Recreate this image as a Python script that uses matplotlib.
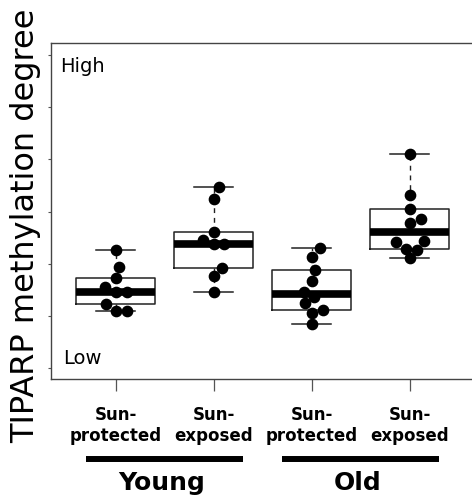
"""TIPARP methylation boxplot — young/old x sun-protected/exposed."""

import matplotlib

matplotlib.use("Agg")
import matplotlib.pyplot as plt
import matplotlib.transforms as mtransforms
import numpy as np

plt.rcParams["font.family"] = ["DejaVu Sans"]

# values (arbitrary units, low -> high)
young_protected = [2.27, 1.93, 1.72, 1.55, 1.45, 1.45, 1.23, 1.10, 1.10]
young_exposed = [3.47, 3.24, 2.61, 2.46, 2.38, 2.38, 1.92, 1.77, 1.46]
old_protected = [2.31, 2.13, 1.88, 1.67, 1.46, 1.37, 1.25, 1.12, 1.06, 0.84]
old_exposed = [4.11, 3.31, 3.05, 2.86, 2.78, 2.44, 2.41, 2.29, 2.26, 2.10]

# horizontal spread of the dots inside each group
young_protected_dx = [0, 0.03, 0, -0.11, 0, 0.115, -0.095, 0, 0.115]
young_exposed_dx = [0.054, 0, 0, -0.109, 0, 0.105, 0.085, 0, 0]
old_protected_dx = [0.082, 0, 0.03, 0, -0.082, 0.02, -0.071, 0.116, 0, 0]
old_exposed_dx = [0, 0, 0, 0.116, 0, 0.143, -0.143, -0.041, 0.075, 0]

tick_labels = ["Sun-\nprotected", "Sun-\nexposed", "Sun-\nprotected", "Sun-\nexposed"]
age_groups = ["Young", "Old"]


def tukey_stats(values):
    """Box stats like R's boxplot (fivenum hinges, 1.5 IQR whiskers)."""
    v = np.sort(np.asarray(values, dtype=float))
    n = len(v)
    med = np.median(v)
    half = (n + 1) // 2
    q1 = np.median(v[:half])
    q3 = np.median(v[n - half:])
    iqr = q3 - q1
    lo = v[v >= q1 - 1.5 * iqr].min()
    hi = v[v <= q3 + 1.5 * iqr].max()
    return {"med": med, "q1": q1, "q3": q3, "whislo": lo, "whishi": hi, "fliers": []}


groups = [young_protected, young_exposed, old_protected, old_exposed]
offsets = [young_protected_dx, young_exposed_dx, old_protected_dx, old_exposed_dx]
positions = np.arange(1, len(groups) + 1)

fig = plt.figure(figsize=(4.72, 4.99), dpi=100)
ax = fig.add_axes([51 / 472, 1 - 379 / 499, 421 / 472, 336 / 499])

ax.bxp(
    [tukey_stats(g) for g in groups],
    positions=positions,
    widths=0.8,
    capwidths=0.4,
    showfliers=False,
    boxprops=dict(color="#222222", linewidth=1.1),
    whiskerprops=dict(color="#222222", linewidth=1.0, linestyle=(0, (3.5, 3.5))),
    capprops=dict(color="#222222", linewidth=1.1),
    medianprops=dict(color="black", linewidth=5.5, solid_capstyle="butt"),
)

for pos, vals, dx in zip(positions, groups, offsets):
    ax.plot(pos + np.asarray(dx), vals, "o", color="black", markersize=7.4, zorder=5)

ax.set_xlim(0.34, 0.34 + 421 / 98)
ax.set_ylim(-0.21, 6.23)
ax.set_yticks(np.arange(0, 7))
ax.set_yticklabels([])
ax.tick_params(axis="y", direction="out", length=2, width=0.8, color="#555555")
ax.set_xticks(positions)
ax.set_xticklabels(tick_labels, fontsize=12, fontweight="bold", linespacing=1.2)
ax.tick_params(axis="x", direction="out", length=8.6, width=0.9, color="#555555", pad=11)

for side in ["top", "left", "bottom"]:
    ax.spines[side].set_color("#444444")
    ax.spines[side].set_linewidth(1.0)
ax.spines["right"].set_visible(False)

ax.text(0.021, 0.929, "High", transform=ax.transAxes, fontsize=14, ha="left", va="center")
ax.text(0.029, 0.06, "Low", transform=ax.transAxes, fontsize=14, ha="left", va="center")

# group bars and labels under the tick labels
trans = mtransforms.blended_transform_factory(ax.transData, ax.transAxes)
for i, name in enumerate(age_groups):
    centre = positions[2 * i : 2 * i + 2].mean()
    ax.plot([centre - 0.8, centre + 0.8], [-0.238, -0.238], color="black",
            linewidth=4.3, solid_capstyle="butt", transform=trans, clip_on=False)
    ax.text(centre - 0.03, -0.31, name, transform=trans, fontsize=18,
            fontweight="bold", ha="center", va="center")

fig.text(26 / 472, 1 - 226 / 499, "TIPARP methylation degree", rotation=90,
         fontsize=23, ha="center", va="center")

fig.savefig("out.png", dpi=100)
plt.close(fig)
